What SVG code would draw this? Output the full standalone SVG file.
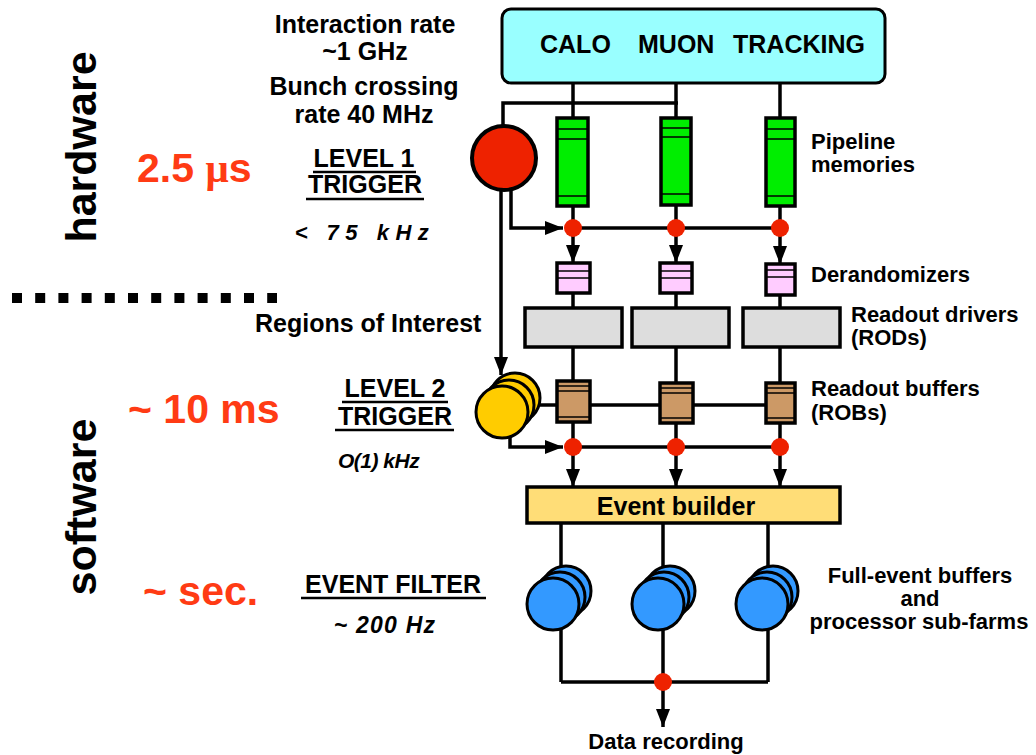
<svg xmlns="http://www.w3.org/2000/svg" width="1036" height="755" viewBox="0 0 1036 755">
<style>
text{font-family:"Liberation Sans",Arial,sans-serif;font-weight:bold;fill:#000}
.l25{font-size:25px}
.l22{font-size:22px}
.red{fill:#FF3B14;font-size:41px}
.side{font-size:43px}
.it{font-style:italic}
.c{text-anchor:middle}
.ln{stroke:#000;stroke-width:3.5;fill:none}
.ul{stroke:#000;stroke-width:2.5}
.thin{stroke:#000;stroke-width:1.5}
.box{stroke:#000;stroke-width:3.5}
.pipe{fill:#00EE00}
.der{fill:#FFCCFF}
.rod{fill:#DDDDDD}
.rob{fill:#CC9966}
.dot{fill:#EE2200}
.yel{fill:#FFCC00;stroke:#000;stroke-width:3}
.blu{fill:#3399FF;stroke:#000;stroke-width:3}
</style>
<defs>
<marker id="arr" markerWidth="18" markerHeight="14" refX="18" refY="7" orient="auto" markerUnits="userSpaceOnUse">
<path d="M0,0 L18,7 L0,14 z" fill="#000"/>
</marker>
</defs>
<rect width="1036" height="755" fill="#fff"/>

<g id="labels-left">
<text class="side c" transform="translate(96,147) rotate(-90)">hardware</text>
<text class="side c" transform="translate(96,507) rotate(-90)">software</text>
<line x1="12" y1="298" x2="277" y2="298" stroke="#000" stroke-width="10" stroke-dasharray="10 13.2"/>
<text class="red" x="137" y="182">2.5 <tspan font-family="'Liberation Serif',serif">μ</tspan>s</text>
<text class="red" x="128" y="423">~ 10 ms</text>
<text class="red" x="143" y="605" font-size="43">~ sec.</text>
<text class="l25 c" x="365" y="33">Interaction rate</text>
<text class="l25 c" x="365" y="60">~1 GHz</text>
<text class="l25 c" x="364" y="95">Bunch crossing</text>
<text class="l25 c" x="364" y="123">rate 40 MHz</text>
<text class="l25 c" x="364" y="167">LEVEL 1</text>
<line class="ul" x1="313" y1="172" x2="416" y2="172"/>
<text class="l25 c" x="365" y="193">TRIGGER</text>
<line class="ul" x1="306" y1="199" x2="424" y2="199"/>
<text class="l22 it c" x="365" y="240" letter-spacing="6.5">&lt; 75 kHz</text>
<text class="l25" x="255" y="332">Regions of Interest</text>
<text class="l25 c" x="395" y="397">LEVEL 2</text>
<line class="ul" x1="342" y1="402" x2="448" y2="402"/>
<text class="l25 c" x="395" y="425">TRIGGER</text>
<line class="ul" x1="335" y1="430" x2="454" y2="430"/>
<text class="it" x="338" y="468" font-size="21" letter-spacing="-0.5">O(1) kHz</text>
<text class="l25 c" x="393" y="593">EVENT FILTER</text>
<line class="ul" x1="301" y1="598" x2="486" y2="598"/>
<text class="it c" x="385" y="633" font-size="23" letter-spacing="1.2">~ 200 Hz</text>
</g>

<g id="labels-right">
<text class="l22" x="811" y="149">Pipeline</text>
<text class="l22" x="811" y="172">memories</text>
<text class="l22" x="811" y="282">Derandomizers</text>
<text class="l22" x="851" y="322">Readout drivers</text>
<text class="l22" x="851" y="345">(RODs)</text>
<text class="l22" x="811" y="396">Readout buffers</text>
<text class="l22" x="811" y="420">(ROBs)</text>
<text class="l22 c" x="920" y="583">Full-event buffers</text>
<text class="l22 c" x="920" y="606">and</text>
<text class="l22 c" x="919" y="629">processor sub-farms</text>
<text class="l22 c" x="666" y="749">Data recording</text>
</g>

<g id="connectors">
<polyline class="ln" points="503,125 503,103 678,103"/>
<line class="ln" x1="573" y1="83" x2="573" y2="228"/>
<line class="ln" x1="676" y1="83" x2="676" y2="228"/>
<line class="ln" x1="780" y1="83" x2="780" y2="228"/>
<polyline class="ln" points="511,188 511,228 563,228" marker-end="url(#arr)"/>
<line class="ln" x1="573" y1="228" x2="780" y2="228"/>
<line class="ln" x1="501" y1="188" x2="501" y2="375" marker-end="url(#arr)"/>
<line class="ln" x1="573" y1="228" x2="573" y2="263" marker-end="url(#arr)"/>
<line class="ln" x1="676" y1="228" x2="676" y2="263" marker-end="url(#arr)"/>
<line class="ln" x1="780" y1="228" x2="780" y2="264" marker-end="url(#arr)"/>
<line class="ln" x1="573" y1="290" x2="573" y2="447"/>
<line class="ln" x1="676" y1="290" x2="676" y2="447"/>
<line class="ln" x1="780" y1="290" x2="780" y2="447"/>
<line class="ln" x1="530" y1="405" x2="780" y2="405"/>
<polyline class="ln" points="510,430 510,447 563,447" marker-end="url(#arr)"/>
<line class="ln" x1="573" y1="447" x2="780" y2="447"/>
<line class="ln" x1="573" y1="447" x2="573" y2="487" marker-end="url(#arr)"/>
<line class="ln" x1="676" y1="447" x2="676" y2="487" marker-end="url(#arr)"/>
<line class="ln" x1="780" y1="447" x2="780" y2="487" marker-end="url(#arr)"/>
<line class="ln" x1="561" y1="523" x2="561" y2="682"/>
<line class="ln" x1="663" y1="523" x2="663" y2="682"/>
<line class="ln" x1="768" y1="523" x2="768" y2="682"/>
<line class="ln" x1="561" y1="682" x2="768" y2="682"/>
<line class="ln" x1="663" y1="682" x2="663" y2="727" marker-end="url(#arr)"/>
</g>

<g id="detectors">
<rect x="502" y="9" width="383" height="74" rx="9" fill="#99FFFF" stroke="#000" stroke-width="3"/>
<text class="l25" x="540" y="53">CALO</text>
<text class="l25" x="638" y="53">MUON</text>
<text class="l25" x="733" y="53">TRACKING</text>
</g>

<g id="level1">
<circle cx="504" cy="158" r="32" fill="#EE2200" stroke="#000" stroke-width="4"/>
</g>

<g id="pipelines">
<rect class="box pipe" x="557" y="118" width="31" height="88"/>
<line class="thin" x1="557" y1="129" x2="588" y2="129"/>
<line class="thin" x1="557" y1="139" x2="588" y2="139"/>
<line class="thin" x1="557" y1="196" x2="588" y2="196"/>
<rect class="box pipe" x="661" y="118" width="30" height="87"/>
<line class="thin" x1="661" y1="128" x2="691" y2="128"/>
<line class="thin" x1="661" y1="137" x2="691" y2="137"/>
<line class="thin" x1="661" y1="194" x2="691" y2="194"/>
<rect class="box pipe" x="766" y="118" width="29" height="88"/>
<line class="thin" x1="766" y1="129" x2="795" y2="129"/>
<line class="thin" x1="766" y1="139" x2="795" y2="139"/>
<line class="thin" x1="766" y1="196" x2="795" y2="196"/>
</g>

<g id="derandomizers">
<rect class="box der" x="557" y="263" width="33" height="30"/>
<line class="thin" x1="557" y1="271" x2="590" y2="271"/>
<line class="thin" x1="557" y1="278" x2="590" y2="278"/>
<rect class="box der" x="660" y="263" width="32" height="30"/>
<line class="thin" x1="660" y1="271" x2="692" y2="271"/>
<line class="thin" x1="660" y1="278" x2="692" y2="278"/>
<rect class="box der" x="766" y="264" width="29" height="31"/>
<line class="thin" x1="766" y1="270" x2="795" y2="270"/>
<line class="thin" x1="766" y1="277" x2="795" y2="277"/>
</g>

<g id="rods">
<rect class="box rod" x="525" y="308" width="97" height="39"/>
<rect class="box rod" x="632" y="308" width="97" height="39"/>
<rect class="box rod" x="743" y="308" width="97" height="39"/>
</g>

<g id="robs">
<rect class="box rob" x="557" y="381" width="33" height="41"/>
<line class="thin" x1="557" y1="386" x2="590" y2="386"/>
<line class="thin" x1="557" y1="391" x2="590" y2="391"/>
<line class="thin" x1="557" y1="417" x2="590" y2="417"/>
<rect class="box rob" x="660" y="383" width="33" height="40"/>
<line class="thin" x1="660" y1="388" x2="693" y2="388"/>
<line class="thin" x1="660" y1="393" x2="693" y2="393"/>
<line class="thin" x1="660" y1="418" x2="693" y2="418"/>
<rect class="box rob" x="766" y="383" width="29" height="40"/>
<line class="thin" x1="766" y1="388" x2="795" y2="388"/>
<line class="thin" x1="766" y1="393" x2="795" y2="393"/>
<line class="thin" x1="766" y1="418" x2="795" y2="418"/>
</g>

<g id="level2">
<circle class="yel" cx="515" cy="398" r="25"/>
<circle class="yel" cx="509" cy="405" r="25"/>
<circle class="yel" cx="502" cy="412" r="26"/>
</g>

<g id="red-dots">
<circle class="dot" cx="573" cy="228" r="9"/>
<circle class="dot" cx="676" cy="228" r="9"/>
<circle class="dot" cx="780" cy="228" r="9"/>
<circle class="dot" cx="573" cy="447" r="9"/>
<circle class="dot" cx="676" cy="447" r="9"/>
<circle class="dot" cx="780" cy="447" r="9"/>
<circle class="dot" cx="663" cy="682" r="9"/>
</g>

<g id="event-builder">
<rect x="527" y="487" width="313" height="36" fill="#FFDD77" stroke="#000" stroke-width="3.5"/>
<text class="l25 c" x="676" y="515">Event builder</text>
</g>

<g id="farm1">
<circle class="blu" cx="566" cy="591" r="25"/>
<circle class="blu" cx="560" cy="597" r="25"/>
<circle class="blu" cx="553" cy="604" r="26"/>
</g>
<g id="farm2">
<circle class="blu" cx="670" cy="591" r="25"/>
<circle class="blu" cx="664" cy="597" r="25"/>
<circle class="blu" cx="658" cy="604" r="26"/>
</g>
<g id="farm3">
<circle class="blu" cx="773" cy="591" r="25"/>
<circle class="blu" cx="767" cy="597" r="25"/>
<circle class="blu" cx="762" cy="604" r="26"/>
</g>
</svg>
